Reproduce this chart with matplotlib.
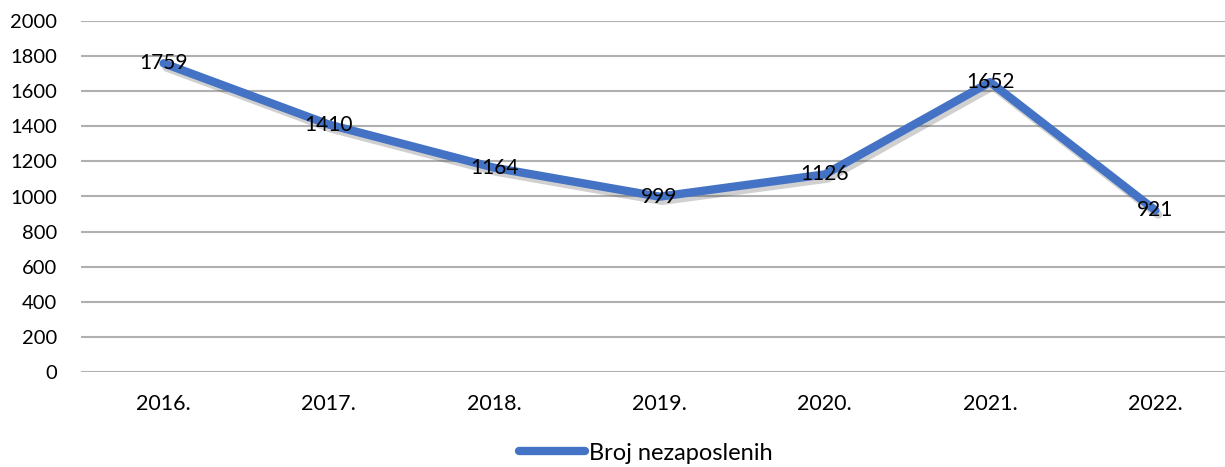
import matplotlib
matplotlib.use('Agg')
import matplotlib.pyplot as plt
import matplotlib.patheffects as pe
from matplotlib.lines import Line2D

godine = ['2016.', '2017.', '2018.', '2019.', '2020.', '2021.', '2022.']
nezaposleni = [1759, 1410, 1164, 999, 1126, 1652, 921]

plt.rcParams['font.family'] = ['Lato', 'DejaVu Sans']
plt.rcParams['font.size'] = 14.5

W, H = 1225, 467
fig = plt.figure(figsize=(W / 100, H / 100), dpi=100)
ax = fig.add_axes([81 / W, 1 - 372 / H, (1238 - 81) / W, (372 - 21) / H])

plava = '#4472C4'
x = list(range(len(godine)))
ax.plot(x, nezaposleni, color=plava, linewidth=6, solid_capstyle='round', zorder=3,
        path_effects=[pe.SimpleLineShadow(offset=(2, -3), shadow_color='#444444', alpha=0.25),
                      pe.Normal()])
for xi, v in zip(x, nezaposleni):
    ax.text(xi, v, str(v), ha='center', va='center', color='black', fontsize=15, zorder=4)

ax.set_xlim(-0.5, len(godine) - 0.5)
ax.set_ylim(0, 2000)
ax.set_yticks(range(0, 2001, 200))
ax.set_xticks(x)
ax.set_xticklabels(godine, fontsize=15.5)
ax.grid(axis='y', color='#B0B0B0', linewidth=1.5)
ax.set_axisbelow(True)
for s in ax.spines.values():
    s.set_visible(False)
ax.tick_params(axis='both', length=0)
ax.tick_params(axis='y', pad=17)
ax.tick_params(axis='x', pad=16)

# legenda bez sjene
rucka = Line2D([], [], color=plava, linewidth=6, solid_capstyle='round')
fig.legend([rucka], ['Broj nezaposlenih'], loc='center', bbox_to_anchor=(646 / W, 1 - 453 / H),
           frameon=False, handlelength=2.8, handletextpad=0.15, fontsize=17)

fig.savefig('out.png', dpi=100)
